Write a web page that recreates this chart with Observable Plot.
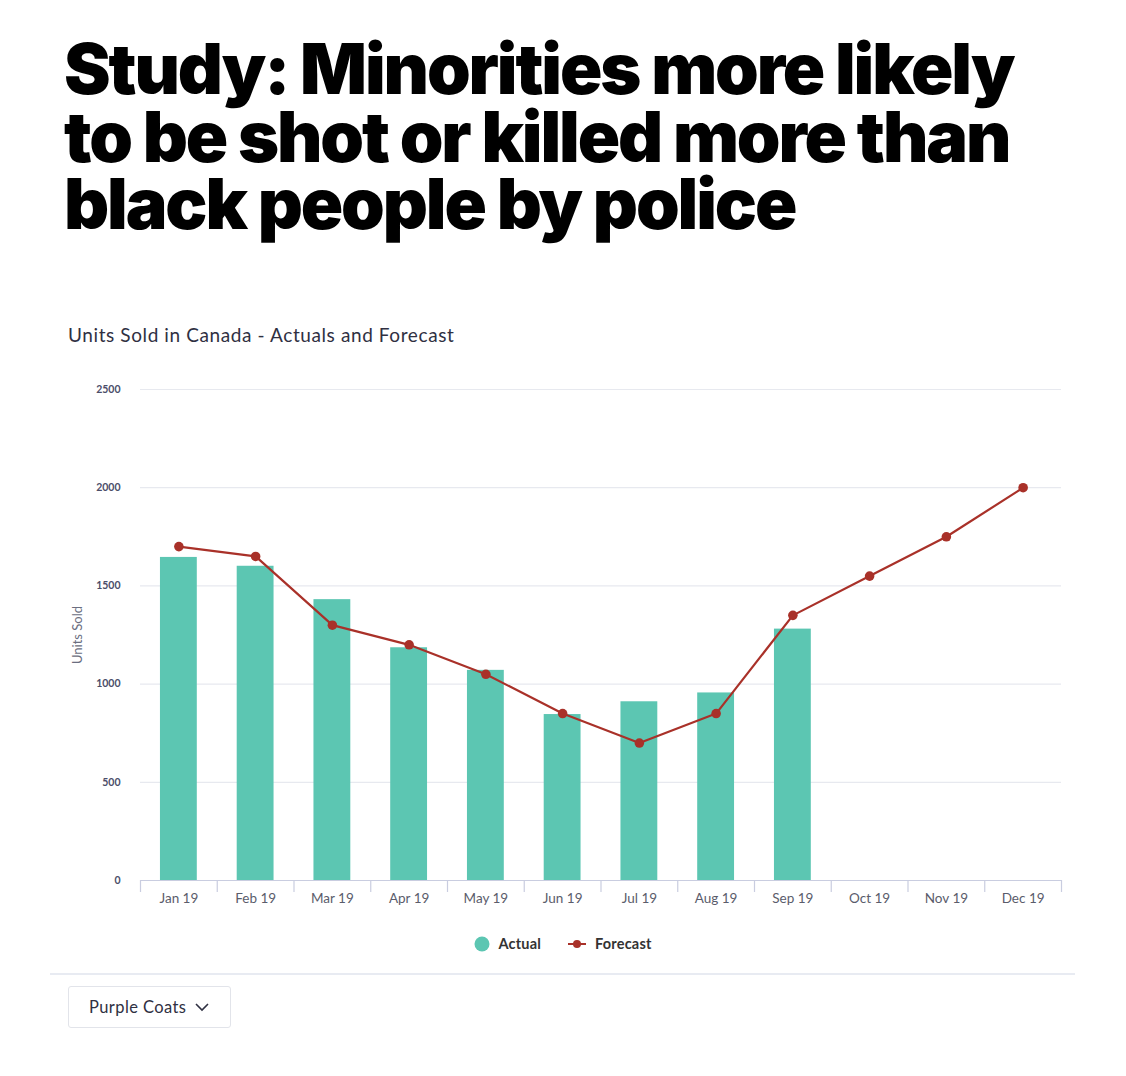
<!DOCTYPE html>
<html>
<head>
<meta charset="utf-8">
<script src="https://cdn.jsdelivr.net/npm/d3@7"></script>
<script src="https://cdn.jsdelivr.net/npm/@observablehq/plot@0.6"></script>
<style>
  html, body { margin: 0; padding: 0; background: #fff; }
  body { width: 1126px; height: 1076px; position: relative; overflow: hidden; font-family: Lato, "Open Sans", sans-serif; }
  #title { position: absolute; left: 64px; top: 35px; width: 1060px; margin: 0; white-space: nowrap;
    font-family: Inter, sans-serif; font-weight: 900; font-size: 70px; line-height: 67.5px; letter-spacing: -2.1px; color: #000; }
  #title .line { display: block; height: 67.5px; }
  #subtitle { position: absolute; left: 68px; top: 323px; font-size: 19px; letter-spacing: 0.6px; color: #2f3042; font-family: Lato, sans-serif; }
  #chart { position: absolute; left: 0; top: 370px; }
  #legend { position: absolute; top: 935px; left: 0; width: 1126px; display: flex; justify-content: center; gap: 26px; font-weight: 700; font-size: 14.5px; letter-spacing: 0.2px; color: #333; }
  #legend .item { display: flex; align-items: center; gap: 8px; }
  #sep { position: absolute; left: 50px; width: 1025px; top: 973px; height: 1.5px; background: #e8ebf2; }
  #btn { position: absolute; left: 68px; top: 986px; width: 163px; height: 42px; border: 1px solid #e2e4ea; border-radius: 3px; box-sizing: border-box;
    font-size: 16.5px; letter-spacing: 0.4px; color: #2f3042; display: flex; align-items: center; padding-left: 20px; gap: 9px; }
</style>
</head>
<body>
<h1 id="title"><span class="line">Study: Minorities more likely</span><span class="line">to be shot or killed more than</span><span class="line">black people by police</span></h1>
<div id="subtitle">Units Sold in Canada - Actuals and Forecast</div>
<div id="chart"></div>
<div id="legend"></div>
<div id="sep"></div>
<div id="btn"><span>Purple Coats</span><svg width="14" height="10" viewBox="0 0 14 10"><path d="M1 2 L7 8 L13 2" fill="none" stroke="#2f3042" stroke-width="1.6"/></svg></div>
<script>
const months = ["Jan 19","Feb 19","Mar 19","Apr 19","May 19","Jun 19","Jul 19","Aug 19","Sep 19","Oct 19","Nov 19","Dec 19"];
const actualMonths = ["Jan 19","Feb 19","Mar 19","Apr 19","May 19","Jun 19","Jul 19","Aug 19","Sep 19"];
const actualValues = [1645, 1600, 1430, 1185, 1070, 845, 910, 955, 1280];
const forecastValues = [1700, 1650, 1300, 1200, 1050, 850, 700, 850, 1350, 1550, 1750, 2000];
const yTicks = [0, 500, 1000, 1500, 2000, 2500];
const seriesNames = ["Actual", "Forecast"];

const barColor = "#5cc6b2";
const lineColor = "#a93129";

const actual = actualMonths.map((m, i) => ({month: m, value: actualValues[i]}));
const forecast = months.map((m, i) => ({month: m, value: forecastValues[i]}));

const width = 1126, height = 550;
const mL = 140, mR = 65, mT = 19, mB = 40;
const band = (width - mL - mR) / months.length;

const chart = Plot.plot({
  width, height,
  marginLeft: mL, marginRight: mR, marginTop: mT, marginBottom: mB,
  style: {fontFamily: "Lato, sans-serif", background: "#fff"},
  x: {domain: months, paddingInner: 0.52, paddingOuter: 0.26, round: false, label: null},
  y: {domain: [0, 2500], label: null},
  marks: [
    Plot.gridY(yTicks.filter(d => d > 0), {stroke: "#e7e9ef", strokeOpacity: 1, strokeWidth: 1.2}),
    Plot.barY(actual, {x: "month", y: "value", fill: barColor}),
    Plot.ruleY([0], {stroke: "#c9cde0", strokeWidth: 1.2}),
    Plot.axisY({ticks: yTicks, tickFormat: d => String(d), tickSize: 0, tickPadding: 20, fontSize: 10.5, fontWeight: 700, fill: "#4b4e69", label: null}),
    Plot.text(["Units Sold"], {frameAnchor: "left", textAnchor: "middle", dx: -63, rotate: -90, fontSize: 13, fill: "#6b6e80"}),
    Plot.axisX({tickSize: 0, tickPadding: 13, fontSize: 13.5, fill: "#5a5c6b", label: null}),
    Plot.axisX({text: null, tickSize: 12, dx: -band / 2, stroke: "#c9cde0", strokeWidth: 1.2, label: null}),
    Plot.axisX({ticks: [months[months.length - 1]], text: null, tickSize: 12, dx: band / 2, stroke: "#c9cde0", strokeWidth: 1.2, label: null}),
    Plot.line(forecast, {x: "month", y: "value", stroke: lineColor, strokeWidth: 2.2}),
    Plot.dot(forecast, {x: "month", y: "value", fill: lineColor, r: 4.8})
  ]
});
document.getElementById("chart").appendChild(chart);

const legend = document.getElementById("legend");
legend.innerHTML = `
  <div class="item"><svg width="16" height="16"><circle cx="8" cy="8" r="7.5" fill="${barColor}"/></svg><span>${seriesNames[0]}</span></div>
  <div class="item"><svg width="20" height="16"><line x1="1" x2="19" y1="8" y2="8" stroke="${lineColor}" stroke-width="2"/><circle cx="10" cy="8" r="4" fill="${lineColor}"/></svg><span>${seriesNames[1]}</span></div>`;
</script>
</body>
</html>
